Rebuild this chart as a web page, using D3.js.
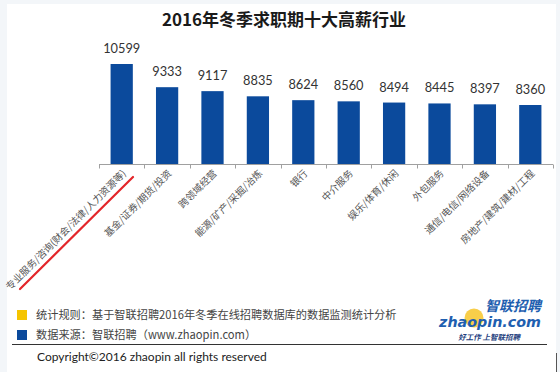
<!DOCTYPE html>
<html><head><meta charset="utf-8">
<script src="https://cdn.jsdelivr.net/npm/d3@7"></script>
<style>
html,body{margin:0;padding:0;background:#f3f6f9;}
svg{display:block;}
</style></head>
<body>
<svg id="c" width="560" height="372"></svg>
<script>
const title = "2016年冬季求职期十大高薪行业";
const categories = ["专业服务/咨询(财会/法律/人力资源等)","基金/证券/期货/投资","跨领域经营","能源/矿产/采掘/冶炼","银行","中介服务","娱乐/体育/休闲","外包服务","通信/电信/网络设备","房地产/建筑/建材/工程"];
const values = [10599,9333,9117,8835,8624,8560,8494,8445,8397,8360];
const legendItems = ["统计规则：基于智联招聘2016年冬季在线招聘数据库的数据监测统计分析","数据来源：智联招聘（www.zhaopin.com）"];
const legendColors = ["#f5c400","#0b4a9c"];
const copyright = "Copyright©2016 zhaopin all rights reserved";

const svg = d3.select("#c");
const CJK = "'Noto Sans CJK SC', sans-serif";
const NUM = "Lato, 'Noto Sans CJK SC', sans-serif";

// white panel
svg.append("rect").attr("x",7).attr("y",4).attr("width",549).attr("height",368).attr("fill","#ffffff");
svg.append("line").attr("x1",556.5).attr("x2",556.5).attr("y1",353).attr("y2",372).attr("stroke","#555").attr("stroke-width",1);

// title
svg.append("text").attr("x",284).attr("y",26).attr("text-anchor","middle")
  .attr("font-family",CJK).attr("font-weight","bold").attr("font-size",17).attr("fill","#1a1a1a").text(title);

const x = d3.scaleBand().domain(categories).range([99,553]).paddingInner(0.51).paddingOuter(0.255);
const y = d3.scaleLinear().domain([5138,11000]).range([164,164-(11000-5138)*0.01831]);

const bars = svg.append("g");
bars.selectAll("rect").data(values).join("rect")
  .attr("x",(d,i)=>x(categories[i])).attr("width",x.bandwidth())
  .attr("y",d=>y(d)).attr("height",d=>y.range()[0]-y(d)).attr("fill","#0b4a9c");

bars.selectAll("text.v").data(values).join("text").attr("class","v")
  .attr("x",(d,i)=>x(categories[i])+x.bandwidth()/2).attr("y",d=>y(d)-11)
  .attr("text-anchor","middle").attr("font-family",NUM).attr("font-size",12.8).attr("fill","#333").text(d=>d);

// axis
const axisG = svg.append("g").attr("transform","translate(0,164.5)");
axisG.append("line").attr("x1",99).attr("x2",553).attr("stroke","#a0a0a0");
const step = x.step();
const tickXs = d3.range(categories.length+1).map(i=>99+i*step);
axisG.selectAll("line.t").data(tickXs).join("line").attr("class","t")
  .attr("x1",d=>Math.round(d)+0.5).attr("x2",d=>Math.round(d)+0.5).attr("y1",0).attr("y2",4).attr("stroke","#a0a0a0");

svg.append("g").selectAll("text").data(categories).join("text")
  .attr("transform",d=>`translate(${x(d)+x.bandwidth()/2+5},${174}) rotate(-45)`)
  .attr("text-anchor","end").attr("font-family",CJK).attr("font-size",9.8).attr("fill","#555").text(d=>d);

// red underline
svg.append("line").attr("x1",133).attr("y1",177).attr("x2",20).attr("y2",289)
  .attr("stroke","#e3262a").attr("stroke-width",2.2).attr("stroke-linecap","round");

// legend
const lg = svg.append("g");
legendItems.forEach((t,i)=>{
  const yy = 315 + i*20;
  lg.append("rect").attr("x",17).attr("y",yy-5).attr("width",10).attr("height",10).attr("fill",legendColors[i]);
  lg.append("text").attr("x",36).attr("y",yy+4).attr("font-family",CJK).attr("font-size",11.2).attr("fill","#444").text(t);
});
svg.append("line").attr("x1",12).attr("x2",547).attr("y1",344.5).attr("y2",344.5).attr("stroke","#333").attr("stroke-width",1.2);
svg.append("text").attr("x",37).attr("y",361).attr("font-family","Lato, sans-serif").attr("font-size",12).attr("fill","#222").text(copyright);

// logo
const logo = svg.append("g");
logo.append("circle").attr("cx",474).attr("cy",318).attr("r",9.5).attr("fill","#f7c52a").attr("opacity",0.85);
logo.append("text").attr("x",541).attr("y",311).attr("text-anchor","end").attr("font-family",CJK).attr("font-weight","bold").attr("font-style","italic").attr("font-size",14).attr("fill","#1f5fb0").text("智联招聘");
logo.append("text").attr("x",541).attr("y",327).attr("text-anchor","end").attr("font-family","'DejaVu Sans', sans-serif").attr("font-weight","bold").attr("font-style","italic").attr("font-size",14.3).attr("fill","#1f5fb0").text("zhaopin.com");
logo.append("text").attr("x",520).attr("y",340).attr("text-anchor","end").attr("font-family",CJK).attr("font-weight","bold").attr("font-style","italic").attr("font-size",7.5).attr("fill","#1f3f80").text("好工作  上智联招聘");
</script>
</body></html>
